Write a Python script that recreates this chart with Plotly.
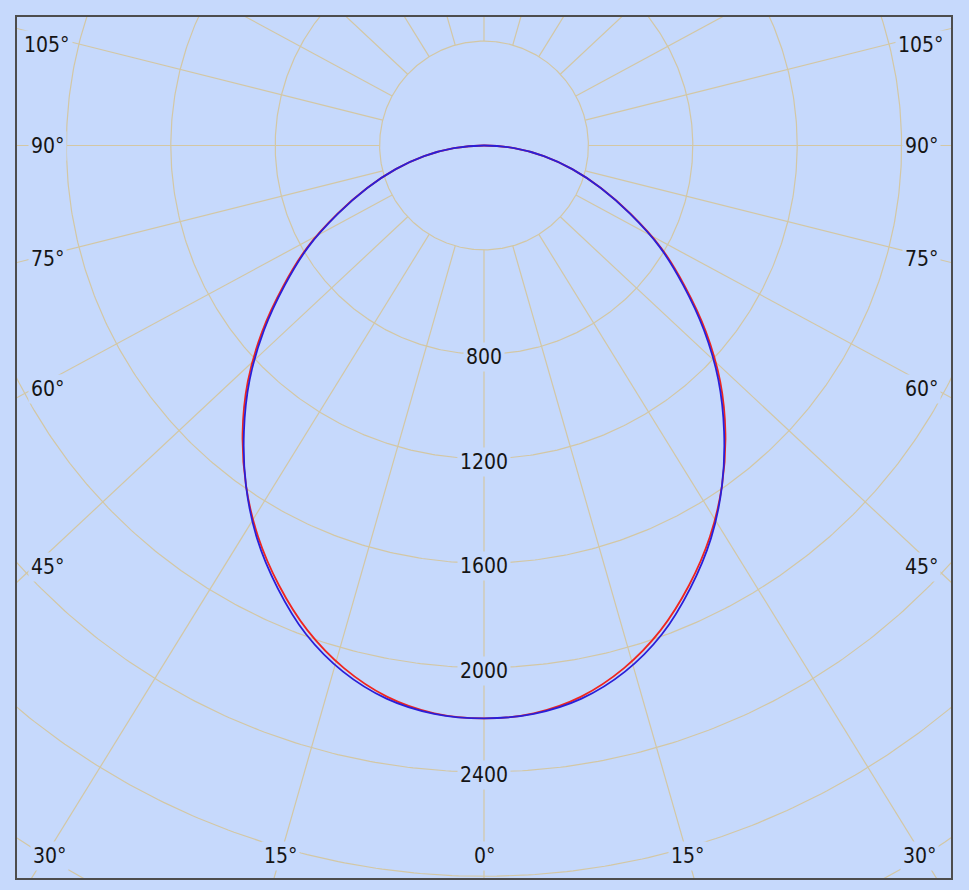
import numpy as np
import plotly.graph_objects as go

# ---------------- data ----------------
gamma_deg = [0, 5, 10, 15, 20, 25, 30, 35, 40, 45, 50, 55, 60, 65, 70, 75, 80, 85, 90]
i_c0_c180 = [2195, 2184, 2144, 2073, 1977, 1859, 1731, 1590, 1439, 1280, 1110, 939, 783, 620, 478, 350, 233, 116, 0]
i_c90_c270 = [2195, 2186, 2152, 2087, 1993, 1871, 1739, 1590, 1431, 1270, 1100, 931, 777, 616, 476, 350, 233, 116, 0]

circle_values = [400, 800, 1200, 1600, 2000, 2400, 2800, 3200, 3600]
radial_tick_labels = [800, 1200, 1600, 2000, 2400]
spoke_angles = list(range(0, 360, 15))
side_angle_labels = [45, 60, 75, 90, 105]
bottom_angle_labels = [0, 15, 30]

# ---------------- style / layout ----------------
W, H = 969, 890
BG = "#C6D9FC"
GRID = "#D3C7A4"
FRAME = "#4d4d4d"
TXT = "#151515"
FONT = "DejaVu Sans Condensed, DejaVu Sans, sans-serif"
FS = 21
PX = 0.261            # pixels per cd
CX, CY = 484, 145.5   # pole in page pixels
L, R, T, B = 17, 951, 17, 878
SPOKE_K = 0.935       # vertical squeeze of the spokes in the original drawing

xr = [(L - CX) / PX, (R - CX) / PX]
yr = [(CY - B) / PX, (CY - T) / PX]

fig = go.Figure()

# circles
cx, cy = [], []
t = np.linspace(0, 2 * np.pi, 721)
for v in circle_values:
    cx += list(v * np.sin(t)) + [None]
    cy += list(v * np.cos(t)) + [None]
fig.add_trace(go.Scatter(x=cx, y=cy, mode="lines", line=dict(color=GRID, width=1.2),
                         hoverinfo="skip", showlegend=False))

# spokes (start at the inner circle)
sx, sy = [], []
r0 = circle_values[0]
for a in spoke_angles:
    ar = np.radians(a)
    dx, dy = np.sin(ar), -np.cos(ar) * SPOKE_K
    n = np.hypot(dx, dy)
    dx, dy = dx / n, dy / n
    sx += [r0 * dx, 6000 * dx, None]
    sy += [r0 * dy, 6000 * dy, None]
fig.add_trace(go.Scatter(x=sx, y=sy, mode="lines", line=dict(color=GRID, width=1.2),
                         hoverinfo="skip", showlegend=False))


def curve(g, i):
    g = np.radians(np.array(g, dtype=float))
    i = np.array(i, dtype=float)
    ga = np.concatenate([-g[::-1], g[1:]])
    ia = np.concatenate([i[::-1], i[1:]])
    return ia * np.sin(ga), -ia * np.cos(ga)


for vals, col in [(i_c0_c180, "#F0261E"), (i_c90_c270, "#2A1FD8")]:
    x, y = curve(gamma_deg, vals)
    fig.add_trace(go.Scatter(x=x, y=y, mode="lines", line=dict(color=col, width=1.8, shape="spline"),
                             hoverinfo="skip", showlegend=False))

ann = []
for v in radial_tick_labels:
    ann.append(dict(x=0, y=-v, xref="x", yref="y", text=str(v), showarrow=False,
                    font=dict(size=FS, color=TXT, family=FONT), bgcolor=BG, borderpad=2, yshift=-3))

# angle labels around the frame
SIDE_X = 437      # px from pole
BOTTOM_Y = 856
TOP_Y = 45
for a in side_angle_labels:
    ypx = CY + SIDE_X / np.tan(np.radians(a)) * 0.965
    ypx = min(max(ypx, TOP_Y), BOTTOM_Y)
    for sgn in (-1, 1):
        ann.append(dict(x=sgn * SIDE_X / PX, y=(CY - ypx) / PX, xref="x", yref="y",
                        text=f"{a}°", showarrow=False, font=dict(size=FS, color=TXT, family=FONT),
                        bgcolor=BG, borderpad=2))
for a in bottom_angle_labels:
    off = min((BOTTOM_Y - CY) * np.tan(np.radians(a)) / SPOKE_K, SIDE_X - 2)
    sides = (1,) if a == 0 else (-1, 1)
    for sgn in sides:
        ann.append(dict(x=sgn * off / PX, y=(CY - BOTTOM_Y) / PX, xref="x", yref="y",
                        text=f"{a}°", showarrow=False, font=dict(size=FS, color=TXT, family=FONT),
                        bgcolor=BG, borderpad=2))

axis = dict(showgrid=False, zeroline=False, showticklabels=False, ticks="",
            showline=True, mirror=True, linecolor=FRAME, linewidth=2, fixedrange=True)
fig.update_layout(
    width=W, height=H,
    margin=dict(l=L, r=W - R, t=T, b=H - B),
    paper_bgcolor=BG, plot_bgcolor=BG,
    xaxis=dict(range=xr, **axis),
    yaxis=dict(range=yr, **axis),
    annotations=ann,
    showlegend=False,
)
fig.write_html(
    "out.html",
    config={"displayModeBar": False},
    post_script="document.body.style.margin='0';document.body.style.background='" + BG + "';",
)
